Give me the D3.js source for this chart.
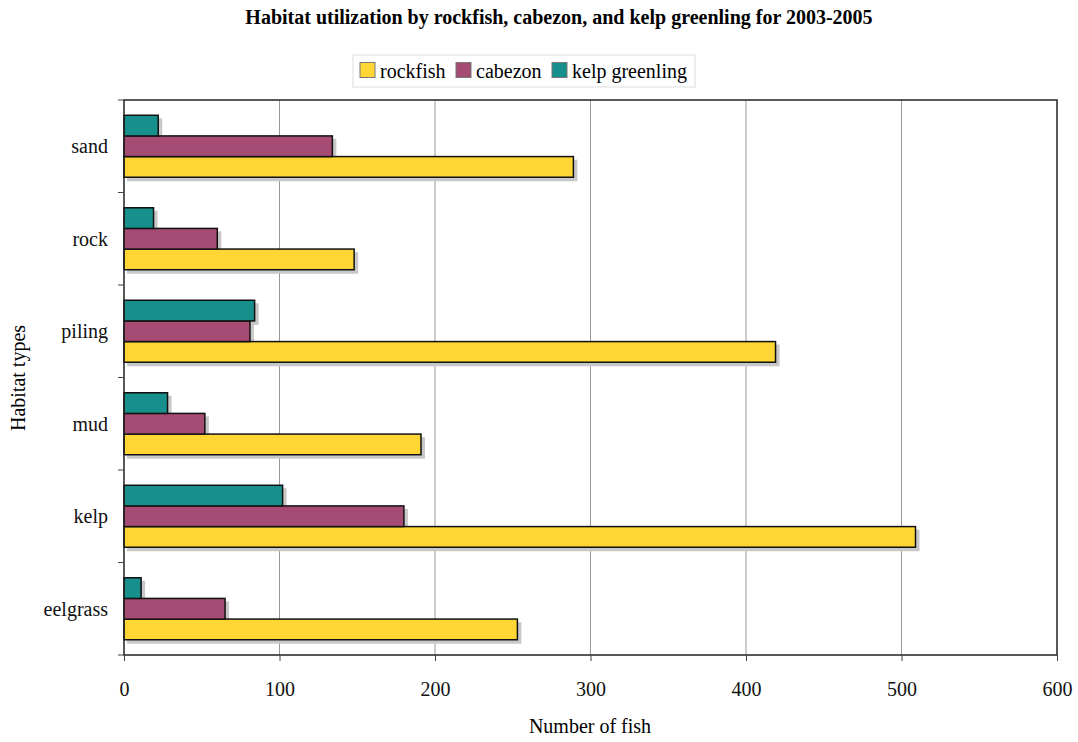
<!DOCTYPE html>
<html><head><meta charset="utf-8">
<script src="https://cdn.jsdelivr.net/npm/d3@7/dist/d3.min.js"></script>
<style>body{margin:0;background:#fff}text{font-family:"Liberation Serif","Times New Roman",serif}</style>
</head><body><svg id="c" width="1078" height="742"></svg>
<script>
const categories = ["sand","rock","piling","mud","kelp","eelgrass"];
const seriesNames = ["rockfish","cabezon","kelp greenling"];
const rockfish = [289,148,419,191,509,253];
const cabezon = [134,60,81,52,180,65];
const kelpGreenling = [22,19,84,28,102,11];
const xTicks = [0,100,200,300,400,500,600];
const colors = ["#FFD633","#A64B73","#178F8C"];
const values = [rockfish, cabezon, kelpGreenling];

const svg = d3.select("#c");
const L=124, R=1057, T=100, B=655;
const FS = 20;
const x = d3.scaleLinear().domain([0,600]).range([L,R]);
const y = d3.scaleBand().domain(categories).range([T,B]).paddingInner(0.33).paddingOuter(0.165);
const yi = d3.scaleBand().domain(["kelp greenling","cabezon","rockfish"]).range([0,y.bandwidth()]);

svg.append("text").attr("x",559).attr("y",24).attr("text-anchor","middle")
  .attr("font-size",FS).attr("font-weight","bold").text("Habitat utilization by rockfish, cabezon, and kelp greenling for 2003-2005");

// gridlines
svg.append("g").selectAll("line").data(xTicks.slice(1,-1)).join("line")
  .attr("x1",d=>x(d)).attr("x2",d=>x(d)).attr("y1",T).attr("y2",B)
  .attr("stroke","#999").attr("stroke-width",1);

// bars
const data = [];
categories.forEach((c,i)=>seriesNames.forEach((s,j)=>data.push({c,s,v:values[j][i],col:colors[j]})));
const g = svg.append("g");
g.selectAll("rect.sh").data(data).join("rect").attr("class","sh")
  .attr("x",x(0)+3).attr("y",d=>y(d.c)+yi(d.s)+3)
  .attr("width",d=>x(d.v)-x(0)+1).attr("height",yi.bandwidth()+1)
  .attr("fill","#c8c8c8");
g.selectAll("rect.b").data(data).join("rect").attr("class","b")
  .attr("x",x(0)).attr("y",d=>y(d.c)+yi(d.s))
  .attr("width",d=>x(d.v)-x(0)).attr("height",yi.bandwidth())
  .attr("fill",d=>d.col).attr("stroke","#111").attr("stroke-width",1.5);

// frame
svg.append("rect").attr("x",L).attr("y",T).attr("width",R-L).attr("height",B-T)
  .attr("fill","none").attr("stroke","#222").attr("stroke-width",1.5);

// x axis
const xa = svg.append("g").attr("transform",`translate(0,${B})`)
  .call(d3.axisBottom(x).tickValues(xTicks).tickSize(6).tickPadding(21).tickFormat(d3.format("d")));
xa.attr("font-family",null);
xa.select(".domain").remove();
xa.selectAll("line").attr("stroke","#444");
xa.selectAll("text").attr("font-size",FS).attr("fill","#111").style("font-family",'"Liberation Serif",serif');

// y axis: ticks at band boundaries
const bounds = categories.map(c=>y(c)-y.step()*0.165).concat([B]);
svg.append("g").selectAll("line").data(bounds).join("line")
  .attr("x1",L-6).attr("x2",L).attr("y1",d=>d).attr("y2",d=>d).attr("stroke","#444");
svg.append("g").selectAll("text").data(categories).join("text")
  .attr("x",108).attr("y",c=>y(c)+y.bandwidth()/2+7).attr("text-anchor","end")
  .attr("font-size",FS).attr("fill","#111").text(c=>c);

svg.append("text").attr("x",590).attr("y",733).attr("text-anchor","middle").attr("font-size",FS).text("Number of fish");
svg.append("text").attr("transform","translate(25,378) rotate(-90)").attr("text-anchor","middle").attr("font-size",FS).text("Habitat types");

// legend
const lg = svg.append("g");
lg.append("rect").attr("x",353).attr("y",55).attr("width",342).attr("height",32)
  .attr("fill","#fff").attr("stroke","#ddd");
const lx = [360,456,552];
seriesNames.forEach((s,j)=>{
  lg.append("rect").attr("x",lx[j]).attr("y",62.5).attr("width",15).attr("height",15)
    .attr("fill",colors[j]).attr("stroke","#777");
  lg.append("text").attr("x",lx[j]+20).attr("y",78).attr("font-size",FS).text(s);
});
</script></body></html>
